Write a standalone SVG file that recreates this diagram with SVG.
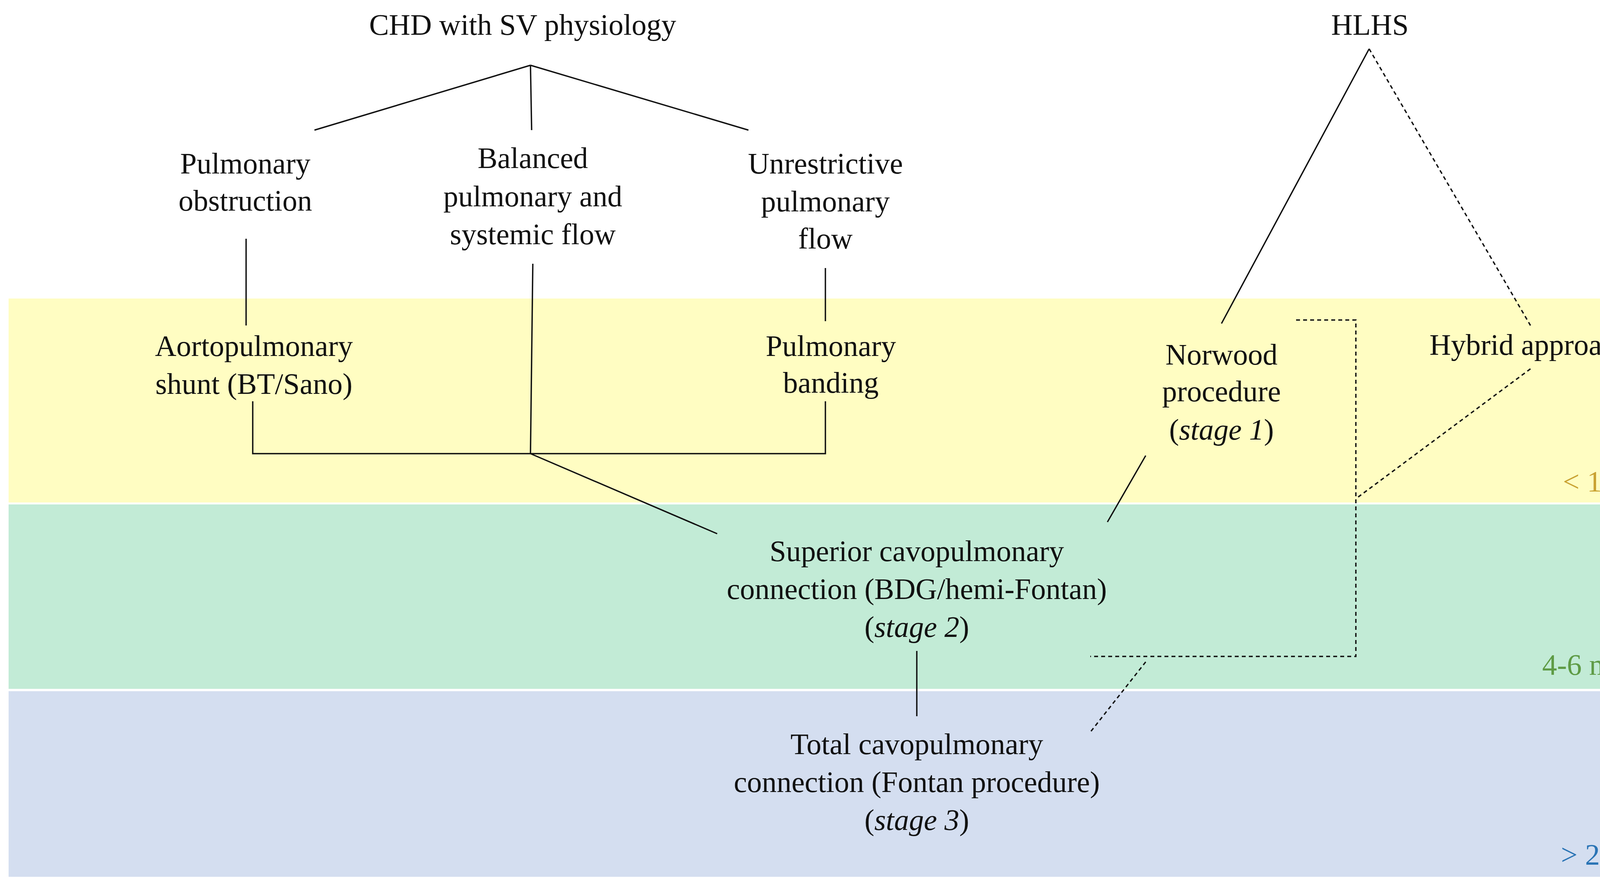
<svg xmlns="http://www.w3.org/2000/svg" width="4332" height="2265" viewBox="0 0 4332 2265">
<style>
text{font-family:"Liberation Serif","Times New Roman",serif;font-size:76px;fill:#111;text-anchor:middle}
.s{stroke:#111;stroke-width:3.5;fill:none}
.d{stroke:#111;stroke-width:3.5;fill:none;stroke-dasharray:10 8}
.r{text-anchor:end}
</style>
<rect width="4332" height="2265" fill="#fff"/>
<rect x="22" y="764" width="4288" height="522" fill="#FFFDC2"/>
<rect x="22" y="1291" width="4288" height="472" fill="#C2EBD6"/>
<rect x="22" y="1769" width="4288" height="475" fill="#D4DEF0"/>
<g id="connectors">
<path class="s" d="M1358,167L805,333M1358,167L1361,333M1358,167L1916,333"/>
<path class="s" d="M3505,125L3127,828"/>
<path class="d" d="M3505,125L3918,833"/>
<path class="s" d="M630,611V833M2113,686V822M1364,675L1358,1161M647,1027V1161H2113V1027M1358,1161L1836,1366"/>
<path class="s" d="M2933,1166L2835,1336M2347,1666V1833"/>
<path class="d" d="M3318,819H3471V1680H2791M3918,944L3477,1272M2933,1694L2791,1874"/>
</g>
<g id="chd"><text x="1338" y="89">CHD with SV physiology</text></g>
<g id="hlhs"><text x="3507" y="89">HLHS</text></g>
<g id="pulm-obs"><text x="628" y="444">Pulmonary</text><text x="628" y="539">obstruction</text></g>
<g id="balanced"><text x="1364" y="430">Balanced</text><text x="1364" y="528">pulmonary and</text><text x="1364" y="625">systemic flow</text></g>
<g id="unrestrictive"><text x="2113" y="444">Unrestrictive</text><text x="2113" y="541">pulmonary</text><text x="2113" y="636">flow</text></g>
<g id="shunt"><text x="650" y="911">Aortopulmonary</text><text x="650" y="1008">shunt (BT/Sano)</text></g>
<g id="banding"><text x="2127" y="911">Pulmonary</text><text x="2127" y="1005">banding</text></g>
<g id="norwood"><text x="3127" y="933">Norwood</text><text x="3127" y="1027">procedure</text><text x="3127" y="1125">(<tspan font-style="italic">stage 1</tspan>)</text></g>
<g id="hybrid"><text x="3916" y="908">Hybrid approach</text></g>
<g id="bdg"><text x="2347" y="1436">Superior cavopulmonary</text><text x="2347" y="1533">connection (BDG/hemi-Fontan)</text><text x="2347" y="1630">(<tspan font-style="italic">stage 2</tspan>)</text></g>
<g id="fontan"><text x="2347" y="1930">Total cavopulmonary</text><text x="2347" y="2027">connection (Fontan procedure)</text><text x="2347" y="2124">(<tspan font-style="italic">stage 3</tspan>)</text></g>
<g id="labels">
<text class="r" x="4280" y="1258" style="fill:#C9A232">&lt; 1 week</text>
<text class="r" x="4292" y="1727" style="fill:#5E9B45">4-6 months</text>
<text class="r" x="4275" y="2213" style="fill:#2A74B5">&gt; 2 years</text>
</g>
</svg>
